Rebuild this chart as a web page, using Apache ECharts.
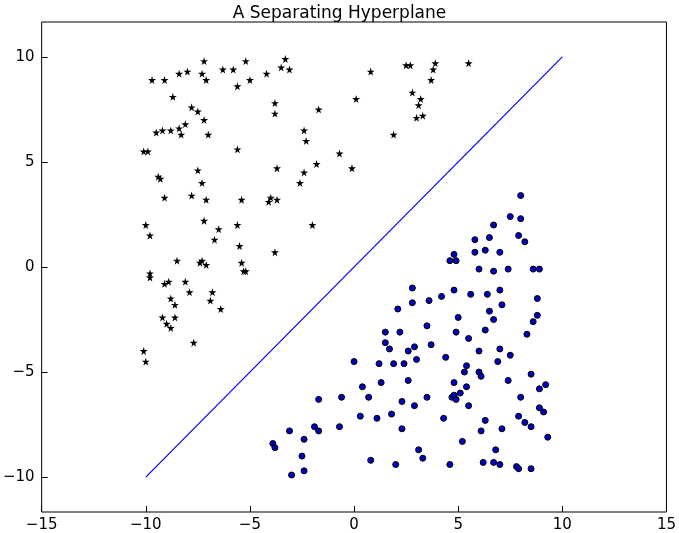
<!DOCTYPE html>
<html><head><meta charset="utf-8">
<script src="https://cdn.jsdelivr.net/npm/echarts@6/dist/echarts.min.js"></script>
<style>html,body{margin:0;background:#fff}#main{width:679px;height:533px}</style>
</head><body><div id="main"></div>
<script>
// class -1 points (stars)
var starPts = [[-9.7,8.9],[-9.1,8.9],[-8.7,8.1],[-8.4,9.2],[-8.0,9.3],[-7.3,9.2],[-7.2,9.8],[-7.1,8.9],[-6.3,9.4],[-5.8,9.4],[-5.6,8.6],[-5.2,9.8],[-5.0,8.9],[-4.2,9.2],[-3.5,9.5],[-3.3,9.9],[-3.1,9.4],
[-9.5,6.4],[-9.2,6.5],[-8.8,6.5],[-8.4,6.6],[-8.1,6.8],[-8.3,6.3],[-7.8,7.6],[-7.5,7.4],[-7.2,7.0],[-7.0,6.3],[-10.1,5.5],[-9.9,5.5],[-9.4,4.3],[-9.3,4.2],[-9.1,3.3],[-7.5,4.6],[-7.3,4.0],[-7.8,3.4],[-7.1,3.2],[-5.6,5.6],[-5.4,3.2],[-3.8,7.8],[-3.8,7.3],[-3.7,4.7],[-4.0,3.3],[-4.1,3.1],[-3.7,3.2],[-2.4,6.5],[-2.3,6.0],[-1.7,7.5],[-2.4,4.5],[-1.8,4.9],[-2.6,4.0],[-2.0,2.0],[-0.7,5.4],[-0.1,4.7],[0.1,8.0],[0.8,9.3],[2.5,9.6],[2.7,9.6],[3.8,9.4],[3.9,9.7],[5.5,9.7],[3.7,8.9],[2.8,8.3],[3.2,8.0],[3.1,7.7],[3.3,7.2],[3.0,7.1],[1.9,6.3],
[-10.0,2.0],[-9.8,1.5],[-7.2,2.2],[-6.5,1.8],[-6.7,1.3],[-5.6,2.0],[-5.5,1.0],[-3.8,0.7],[-9.8,-0.3],[-9.8,-0.5],[-8.5,0.3],[-9.1,-0.8],[-8.9,-0.7],[-8.8,-1.5],[-8.6,-1.8],[-8.1,-0.7],[-7.9,-1.2],[-7.4,0.2],[-7.3,0.3],[-7.1,0.1],[-6.8,-1.2],[-6.9,-1.6],[-6.4,-2.0],[-5.4,0.2],[-5.3,-0.2],[-5.2,-0.2],[-9.2,-2.4],[-9.0,-2.7],[-8.8,-2.9],[-8.6,-2.4],[-7.7,-3.6],[-10.1,-4.0],[-10.0,-4.5]];
// class +1 points (circles)
var circlePts = [[8.0,3.4],[7.5,2.4],[8.0,2.3],[6.7,2.0],[7.9,1.5],[8.2,1.2],[6.5,1.4],[5.8,1.3],[5.8,0.7],[6.3,0.8],[7.0,0.7],[4.8,0.6],[4.6,0.3],[4.9,0.3],[6.0,-0.1],[6.7,-0.2],[7.4,-0.1],[8.6,-0.1],[8.9,-0.1],[6.4,-1.3],[7.0,-1.1],[8.8,-1.5],[2.8,-1.0],[4.2,-1.4],[4.8,-1.1],[5.6,-1.3],[7.1,-1.8],[6.5,-2.1],[2.1,-2.0],[2.8,-1.7],[3.6,-1.6],[5.0,-2.4],[6.7,-2.5],[8.8,-2.3],[8.6,-2.6],[1.5,-3.1],[2.2,-3.1],[3.5,-2.8],[4.9,-3.1],[6.3,-3.0],[8.3,-3.2],[1.5,-3.6],[1.7,-3.9],[2.6,-4.0],[2.9,-3.8],[3.7,-3.7],[5.5,-3.4],[6.0,-4.0],[7.0,-3.9],[7.5,-4.2],[0.0,-4.5],[1.2,-4.6],[1.9,-4.6],[2.4,-4.6],[3.0,-4.4],[4.4,-4.3],[5.4,-4.7],[5.3,-5.0],[6.0,-5.0],[6.1,-5.2],[6.9,-4.5],[8.5,-5.1],[9.2,-5.6],[8.9,-5.8],[0.4,-5.7],[1.3,-5.5],[2.6,-5.4],[4.8,-5.5],[5.4,-5.7],[7.4,-5.4],[8.0,-6.2],[4.7,-6.2],[4.9,-6.3],[4.8,-6.1],[5.1,-6.0],[5.5,-6.6],[3.5,-6.2],[2.3,-6.4],[-1.7,-6.3],[-0.6,-6.2],[0.7,-6.2],[1.1,-7.2],[1.8,-7.0],[2.9,-6.6],[4.3,-7.2],[6.3,-7.3],[6.1,-7.8],[7.1,-7.7],[7.9,-7.1],[8.2,-7.4],[8.5,-7.6],[8.9,-6.7],[9.1,-6.9],[0.3,-7.1],[-1.9,-7.6],[-1.7,-7.8],[-0.7,-7.6],[-3.1,-7.8],[-2.4,-8.2],[-3.9,-8.4],[-3.8,-8.6],[-2.5,-9.0],[-2.4,-9.7],[-3.0,-9.9],[0.8,-9.2],[2.0,-9.4],[3.1,-8.7],[3.3,-9.1],[4.6,-9.4],[5.2,-8.3],[6.2,-9.3],[6.8,-8.7],[6.7,-9.3],[7.0,-9.4],[7.8,-9.5],[7.9,-9.6],[8.5,-9.6],[9.3,-8.1],[2.3,-7.7]];
var linePts = [[-10,-10],[10,10]];
var yTicks = [-10,-5,0,5,10];

var starPath = 'path://M50,0 L61,35 L98,35 L68,57 L79,91 L50,70 L21,91 L32,57 L2,35 L39,35 Z';
var fmt = function (v) { return String(v).replace('-', '\u2212'); };
var lbl = {color:'#000', fontSize:15, fontFamily:'DejaVu Sans', formatter:fmt};

var myChart = echarts.init(document.getElementById('main'));
var option = {
  backgroundColor:'#fff',
  animation:false,
  title:{text:'A Separating Hyperplane', left:'center', top:0,
    textStyle:{fontSize:17, fontWeight:'normal', color:'#000', fontFamily:'DejaVu Sans'}},
  grid:{left:38, right:11, top:22, bottom:20, show:true, borderColor:'#000', borderWidth:1},
  xAxis:{type:'value', min:-15, max:15, interval:5,
    axisLine:{show:false, onZero:false}, splitLine:{show:false},
    axisTick:{inside:true, length:6, lineStyle:{color:'#000'}},
    axisLabel:Object.assign({margin:6}, lbl)},
  yAxis:{type:'value', min:-11.66, max:11.66,
    axisLine:{show:false, onZero:false}, splitLine:{show:false},
    axisTick:{inside:true, length:6, customValues:yTicks, lineStyle:{color:'#000'}},
    axisLabel:Object.assign({margin:7, customValues:yTicks}, lbl)},
  series:[
    {type:'line', data:linePts, symbol:'none', z:1,
      lineStyle:{color:'#0000ff', width:1.2}, itemStyle:{color:'#0000ff'}},
    {type:'scatter', data:starPts, symbol:starPath, symbolSize:8, z:3, itemStyle:{color:'#000', opacity:1}},
    {type:'scatter', data:circlePts, symbol:'circle', symbolSize:6, z:3,
      itemStyle:{color:'#0000bf', borderColor:'#000', borderWidth:1, opacity:1}}
  ]
};
myChart.setOption(option);
</script></body></html>
